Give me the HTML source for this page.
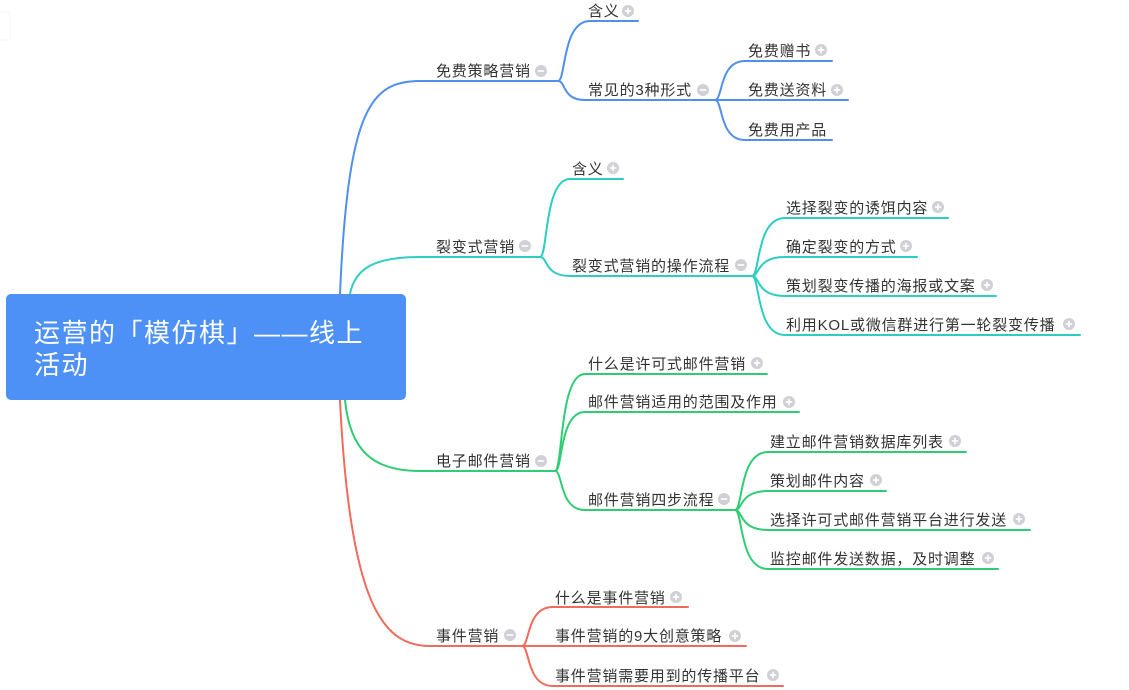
<!DOCTYPE html>
<html><head><meta charset="utf-8"><style>
html,body{margin:0;padding:0;background:#fff;width:1129px;height:690px;overflow:hidden}
svg text{font-family:"Liberation Sans","Noto Sans CJK SC",sans-serif;font-size:15px;letter-spacing:0.8px;fill:#333}
.ic{fill:#d0d0d5}
.pm{stroke:#fff;stroke-width:1.6}
</style></head><body>
<svg width="1129" height="690" viewBox="0 0 1129 690" xmlns="http://www.w3.org/2000/svg">
<defs>
<g id="plus"><circle r="6" class="ic"/><line x1="-3.2" x2="3.2" class="pm"/><line y1="-3.2" y2="3.2" class="pm"/></g>
<g id="minus"><circle r="6" class="ic"/><line x1="-3.2" x2="3.2" class="pm"/></g>
</defs>
<rect x="-4" y="12" width="14" height="28" rx="2" fill="#fff" stroke="#f4f4f6"/>
<g fill="none" stroke-width="2" stroke-linecap="round">
<g stroke="#5090ea">
<path d="M340 294 C348 110 370 81 420 81 L558 81"/>
<path d="M558 81 C566 81 562 21 590 21 L638 21"/>
<path d="M558 81 C566 81 562 100 585 100 L715 100"/>
<path d="M715 100 C723 100 719 61 745 61 L832 61"/>
<path d="M715 100 L848 100"/>
<path d="M715 100 C723 100 719 140 745 140 L832 140"/>
</g>
<g stroke="#2dcdc2">
<path d="M350 294 C355 268 375 257 420 257 L540 257"/>
<path d="M540 257 C548 257 544 179 570 179 L623 179"/>
<path d="M540 257 C548 257 544 276 570 276 L752 276"/>
<path d="M752 276 C760 276 756 218 785 218 L948 218"/>
<path d="M752 276 C760 276 756 257 785 257 L917 257"/>
<path d="M752 276 C760 276 756 296 785 296 L996 296"/>
<path d="M752 276 C760 276 756 335 785 335 L1080 335"/>
</g>
<g stroke="#2fcd73">
<path d="M345 400 C350 450 372 471 420 471 L555 471"/>
<path d="M555 471 C563 471 559 374 585 374 L767 374"/>
<path d="M555 471 C563 471 559 412 585 412 L799 412"/>
<path d="M555 471 C563 471 559 510 585 510 L735 510"/>
<path d="M735 510 C743 510 739 452 768 452 L966 452"/>
<path d="M735 510 C743 510 739 491 768 491 L886 491"/>
<path d="M735 510 C743 510 739 530 768 530 L1030 530"/>
<path d="M735 510 C743 510 739 569 768 569 L998 569"/>
</g>
<g stroke="#f06b5b">
<path d="M340 400 C350 610 385 646 430 646 L522 646"/>
<path d="M522 646 C530 646 526 607 553 607 L688 607"/>
<path d="M522 646 L746 646"/>
<path d="M522 646 C530 646 526 686 553 686 L783 686"/>
</g>
</g>
<rect x="6" y="294" width="400" height="106" rx="5" fill="#4d91f7"/>
<text x="34" y="342" style="font-size:26px;fill:#fff;letter-spacing:1.5px">运营的「模仿棋」——线上</text>
<text x="34" y="374" style="font-size:26px;fill:#fff;letter-spacing:1.5px">活动</text>

<text x="436" y="76">免费策略营销</text><use href="#minus" x="541" y="71"/>
<text x="588" y="16">含义</text><use href="#plus" x="628" y="11"/>
<text x="588" y="95">常见的3种形式</text><use href="#minus" x="703" y="90"/>
<text x="748" y="56">免费赠书</text><use href="#plus" x="821" y="50"/>
<text x="748" y="95">免费送资料</text><use href="#plus" x="837" y="90"/>
<text x="748" y="135">免费用产品</text>

<text x="436" y="252">裂变式营销</text><use href="#minus" x="525" y="246"/>
<text x="572" y="174">含义</text><use href="#plus" x="613" y="168"/>
<text x="572" y="271">裂变式营销的操作流程</text><use href="#minus" x="741" y="265"/>
<text x="786" y="213">选择裂变的诱饵内容</text><use href="#plus" x="938" y="207"/>
<text x="786" y="252">确定裂变的方式</text><use href="#plus" x="906" y="246"/>
<text x="786" y="291">策划裂变传播的海报或文案</text><use href="#plus" x="987" y="285"/>
<text x="786" y="330">利用KOL或微信群进行第一轮裂变传播</text><use href="#plus" x="1069" y="324"/>

<text x="436" y="466">电子邮件营销</text><use href="#minus" x="541" y="461"/>
<text x="588" y="369">什么是许可式邮件营销</text><use href="#plus" x="757" y="363"/>
<text x="588" y="407">邮件营销适用的范围及作用</text><use href="#plus" x="789" y="402"/>
<text x="588" y="505">邮件营销四步流程</text><use href="#minus" x="724" y="499"/>
<text x="770" y="447">建立邮件营销数据库列表</text><use href="#plus" x="955" y="441"/>
<text x="770" y="486">策划邮件内容</text><use href="#plus" x="876" y="480"/>
<text x="770" y="525">选择许可式邮件营销平台进行发送</text><use href="#plus" x="1019" y="519"/>
<text x="770" y="564">监控邮件发送数据，及时调整</text><use href="#plus" x="988" y="558"/>

<text x="436" y="641">事件营销</text><use href="#minus" x="510" y="635"/>
<text x="555" y="603">什么是事件营销</text><use href="#plus" x="676" y="597"/>
<text x="555" y="641">事件营销的9大创意策略</text><use href="#plus" x="735" y="636"/>
<text x="555" y="681">事件营销需要用到的传播平台</text><use href="#plus" x="773" y="675"/>
</svg>
</body></html>
